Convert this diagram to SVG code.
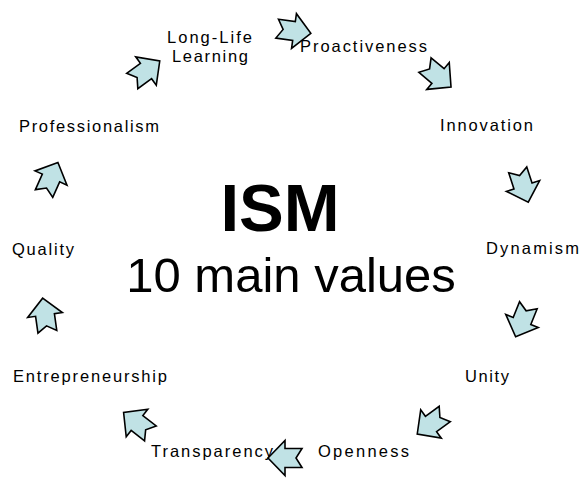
<svg xmlns="http://www.w3.org/2000/svg" width="581" height="478" viewBox="0 0 581 478">
  <defs>
    <!-- notched block arrow pointing right, centred on the origin -->
    <polygon id="notched" points="-17,-9.5 0,-9.5 0,-17.5 17,0 0,17.5 0,9.5 -17,9.5 -11,0"/>
  </defs>
  <style>
    .arrow { fill: #C0E2E5; stroke: #000; stroke-width: 1.6; stroke-linejoin: miter; }
    .label { font-family: "Liberation Sans", Arial, sans-serif; font-size: 16.5px; fill: #000; }
    .title { font-family: "Liberation Sans", Arial, sans-serif; font-weight: bold; font-size: 67px; fill: #000; text-anchor: middle; }
    .sub { font-family: "Liberation Sans", Arial, sans-serif; font-size: 49px; fill: #000; text-anchor: middle; }
  </style>
  <rect width="581" height="478" fill="#fff"/>

  <g id="center">
    <text class="title" x="280" y="231">ISM</text>
    <text class="sub" x="291" y="292">10 main values</text>
  </g>

  <g id="long-life-learning">
    <text class="label" x="167" y="43" textLength="85" lengthAdjust="spacing">Long-Life</text>
    <text class="label" x="172" y="62" textLength="76" lengthAdjust="spacing">Learning</text>
  </g>
  <g id="proactiveness"><text class="label" x="300" y="52" textLength="127" lengthAdjust="spacing">Proactiveness</text></g>
  <g id="innovation"><text class="label" x="440" y="131" textLength="93" lengthAdjust="spacing">Innovation</text></g>
  <g id="dynamism"><text class="label" x="486" y="254" textLength="93" lengthAdjust="spacing">Dynamism</text></g>
  <g id="unity"><text class="label" x="465" y="382" textLength="44" lengthAdjust="spacing">Unity</text></g>
  <g id="openness"><text class="label" x="318" y="457" textLength="91" lengthAdjust="spacing">Openness</text></g>
  <g id="transparency"><text class="label" x="151" y="457" textLength="122" lengthAdjust="spacing">Transparency</text></g>
  <g id="entrepreneurship"><text class="label" x="13" y="382" textLength="154" lengthAdjust="spacing">Entrepreneurship</text></g>
  <g id="quality"><text class="label" x="12" y="255" textLength="62" lengthAdjust="spacing">Quality</text></g>
  <g id="professionalism"><text class="label" x="19" y="132" textLength="140" lengthAdjust="spacing">Professionalism</text></g>

  <!-- clockwise cycle of arrows between the values -->
  <g id="connectors">
    <use href="#notched" class="arrow" transform="translate(146,71) rotate(-36)"/>
    <use href="#notched" class="arrow" transform="translate(294,31) rotate(8)"/>
    <use href="#notched" class="arrow" transform="translate(438,76) rotate(40)"/>
    <use href="#notched" class="arrow" transform="translate(523,186) rotate(72)"/>
    <use href="#notched" class="arrow" transform="translate(522,321) rotate(112)"/>
    <use href="#notched" class="arrow" transform="translate(431,424) rotate(144)"/>
    <use href="#notched" class="arrow" transform="translate(285,458) rotate(180)"/>
    <use href="#notched" class="arrow" transform="translate(137,423) rotate(218)"/>
    <use href="#notched" class="arrow" transform="translate(45,315) rotate(262)"/>
    <use href="#notched" class="arrow" transform="translate(51,178) rotate(294)"/>
  </g>
</svg>
